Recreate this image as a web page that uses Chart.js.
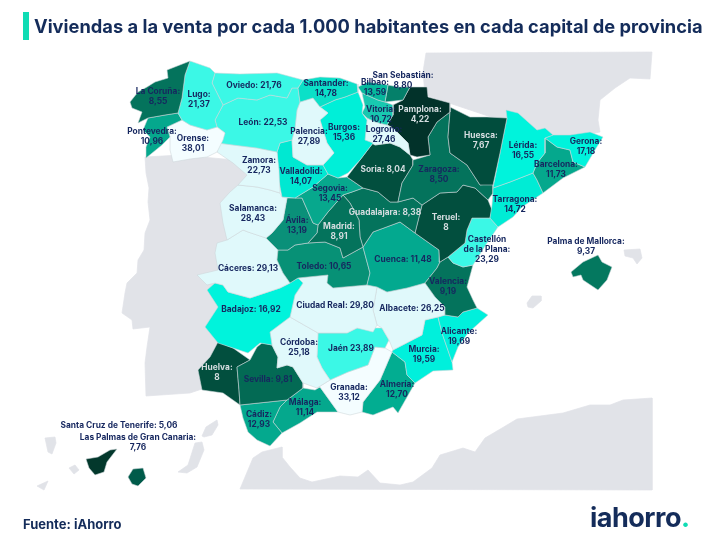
<!DOCTYPE html>
<html>
<head>
<meta charset="utf-8">
<script src="https://cdn.jsdelivr.net/npm/chart.js@4"></script>
<style>
    html, body { margin: 0; padding: 0; background: #fff; }
    #page { position: relative; width: 712px; height: 543px; overflow: hidden; font-family: Inter, sans-serif; color: #142c5a; }
    canvas { position: absolute; left: 0; top: 0; }
    #bar { position: absolute; left: 23px; top: 12px; width: 6px; height: 28px; background: #0fdcb4; }
    #title { position: absolute; left: 34px; top: 13px; margin: 0; font-size: 18.3px; line-height: 26px; font-weight: 700; white-space: nowrap; }
    #source { position: absolute; left: 23px; top: 515px; font-size: 13px; line-height: 18px; font-weight: 700; }
    #logo { position: absolute; left: 590px; top: 500px; font-size: 27px; line-height: 36px; font-weight: 700; letter-spacing: -0.5px; }
    #logo span { color: #0fdcb4; }
</style>
</head>
<body>
<div id="page">
    <canvas id="map" width="712" height="543"></canvas>
    <div id="bar"></div>
    <h1 id="title">Viviendas a la venta por cada 1.000 habitantes en cada capital de provincia</h1>
    <div id="source">Fuente: iAhorro</div>
    <div id="logo">iahorro<span>.</span></div>
</div>
<script>
const provinces = ['La Coruña', 'Lugo', 'Oviedo', 'Santander', 'Bilbao', 'San Sebastián', 'Pontevedra', 'Orense', 'León', 'Palencia', 'Burgos',
    'Vitoria', 'Logroño', 'Pamplona', 'Huesca', 'Lérida', 'Gerona', 'Barcelona', 'Tarragona', 'Zaragoza', 'Soria', 'Zamora', 'Valladolid', 'Segovia',
    'Salamanca', 'Ávila', 'Madrid', 'Guadalajara', 'Teruel', 'Castellón\nde la Plana', 'Valencia', 'Cuenca', 'Toledo', 'Cáceres', 'Badajoz',
    'Ciudad Real', 'Albacete', 'Alicante', 'Murcia', 'Córdoba', 'Jaén', 'Granada', 'Almería', 'Sevilla', 'Huelva', 'Cádiz', 'Málaga',
    'Palma de Mallorca', 'Santa Cruz de Tenerife', 'Las Palmas de Gran Canaria'];
const values = [8.55, 21.37, 21.76, 14.78, 13.59, 8.80, 10.96, 38.01, 22.53, 27.89, 15.36,
    10.72, 27.46, 4.22, 7.67, 16.55, 17.18, 11.73, 14.72, 8.50, 8.04, 22.73, 14.07, 13.45,
    28.43, 13.19, 8.91, 8.38, 8, 23.29, 9.19, 11.48, 10.65, 29.13, 16.92,
    29.80, 26.25, 19.69, 19.59, 25.18, 23.89, 33.12, 12.70, 9.81, 8, 12.93, 11.14,
    9.37, 5.06, 7.76];
const shades = ['#04735c', '#3bf8e6', '#3bf8e6', '#0be0c8', '#06b89d', '#04806a', '#05a88d', '#f4fdff', '#3bf8e6', '#e0f9fb', '#00efd8',
    '#18c8b0', '#e0f9fb', '#02322a', '#014d3d', '#00f3dc', '#00f3dc', '#05a88d', '#00ecd5', '#04735c', '#024f3e', '#e0f9fb', '#00e8d2', '#07a88d',
    '#e0f9fb', '#0a9079', '#04735c', '#04735c', '#024f3e', '#3bf8e6', '#04735c', '#03a98f', '#079176', '#e0f9fb', '#00f3dc',
    '#e0f9fb', '#e0f9fb', '#00f0dc', '#00f0dc', '#e0f9fb', '#3bf8e6', '#f4fdff', '#02ad91', '#036a54', '#024f3e', '#04a98e', '#05a88d',
    '#04785f', '#03382c', '#005b4a'];
// outlines, in a 712x543 map space
const outlines = [
    [[190,61],[167,70],[168,78],[155,82],[147,87],[138,92],[130,102],[132,108],[142,112],[138,123],[148,118],[165,115],[178,113],[182,98],[185,75]],
    [[190,61],[210,68],[215,73],[212,83],[223,105],[215,120],[217,127],[207,130],[190,125],[182,120],[178,113],[182,98],[185,75]],
    [[215,73],[240,74],[277,73],[303,80],[298,88],[292,88],[287,98],[270,95],[257,100],[238,98],[223,105],[212,83]],
    [[303,80],[320,77],[340,78],[357,84],[358,92],[345,97],[335,100],[320,107],[313,98],[300,102],[298,88]],
    [[358,87],[368,82],[388,85],[385,102],[378,100],[362,93]],
    [[388,85],[398,87],[410,87],[403,100],[385,102]],
    [[148,118],[165,115],[178,113],[182,120],[167,127],[170,137],[162,145],[146,158],[146,147],[150,137],[143,130]],
    [[167,127],[182,120],[190,125],[207,130],[217,127],[225,133],[223,140],[217,152],[207,157],[190,159],[173,162],[170,150],[170,137]],
    [[223,105],[238,98],[257,100],[270,95],[287,98],[292,88],[298,88],[300,102],[297,110],[295,128],[292,140],[280,143],[277,152],[257,148],[233,145],[218,143],[225,133],[217,127],[215,120]],
    [[300,102],[313,98],[320,107],[328,113],[320,120],[327,143],[334,153],[323,165],[307,165],[293,157],[292,140],[295,128],[297,110]],
    [[320,107],[335,100],[345,97],[358,92],[363,105],[362,113],[367,120],[365,140],[373,143],[360,160],[348,173],[338,178],[328,174],[323,165],[334,153],[327,143],[320,120],[328,113]],
    [[362,93],[378,100],[385,102],[393,105],[393,115],[387,125],[375,122],[367,118],[362,113],[365,107]],
    [[367,118],[375,122],[387,125],[393,128],[402,137],[408,143],[410,155],[400,147],[390,143],[375,145],[365,140]],
    [[410,87],[427,87],[428,97],[450,103],[450,112],[437,122],[428,137],[430,155],[417,157],[410,155],[408,143],[402,137],[393,128],[387,125],[393,115],[393,105],[403,100]],
    [[450,107],[470,117],[487,117],[507,118],[500,153],[493,185],[480,185],[467,165],[450,153],[448,137],[450,112]],
    [[506,110],[518,113],[537,130],[545,128],[553,135],[545,138],[545,153],[537,163],[533,173],[510,182],[493,188],[500,153],[507,118]],
    [[553,135],[570,135],[590,132],[603,137],[595,150],[585,167],[573,162],[570,150],[557,147],[545,138]],
    [[545,138],[557,147],[570,150],[573,162],[585,167],[563,178],[543,193],[537,180],[533,173],[537,163],[545,153]],
    [[493,188],[510,182],[533,173],[537,180],[543,193],[522,207],[513,217],[498,227],[490,218],[492,205],[493,193]],
    [[450,112],[448,137],[450,153],[467,165],[480,185],[493,183],[493,193],[488,200],[475,188],[463,185],[457,192],[440,193],[422,205],[413,198],[398,202],[402,183],[413,165],[413,160],[430,155],[428,137],[437,122]],
    [[375,145],[390,143],[400,147],[410,155],[413,160],[413,165],[402,183],[398,202],[390,202],[378,192],[363,188],[347,177],[360,160],[373,143]],
    [[217,152],[218,143],[233,145],[257,148],[277,152],[279,170],[280,193],[270,190],[257,187],[238,185],[247,175],[233,163]],
    [[280,143],[292,140],[293,157],[307,165],[323,165],[328,174],[313,187],[295,198],[282,197],[278,177],[277,152]],
    [[295,198],[313,187],[328,174],[338,178],[347,177],[363,188],[352,192],[343,195],[328,212],[318,225],[313,223],[302,198]],
    [[238,185],[257,187],[270,190],[280,193],[282,197],[287,198],[283,220],[272,233],[266,238],[248,232],[243,230],[227,240],[223,223],[220,203],[230,192]],
    [[287,198],[302,198],[313,223],[318,225],[317,233],[308,243],[295,245],[288,250],[278,250],[266,238],[272,233],[283,220]],
    [[343,195],[350,203],[359,220],[360,237],[363,247],[343,258],[340,248],[325,242],[308,243],[317,233],[318,225],[328,212]],
    [[363,188],[378,192],[390,202],[398,202],[413,198],[422,205],[415,233],[400,222],[373,232],[363,247],[360,237],[359,220],[350,203],[343,195],[352,192]],
    [[422,205],[440,193],[457,192],[463,185],[475,188],[488,200],[492,210],[490,218],[472,218],[467,230],[465,243],[448,257],[440,262],[439,250],[415,233]],
    [[472,218],[490,218],[498,227],[487,243],[473,265],[463,267],[453,263],[448,257],[465,243],[467,230]],
    [[440,262],[448,257],[453,263],[463,267],[473,265],[467,287],[473,300],[477,308],[463,312],[458,317],[445,315],[445,307],[435,297],[425,283],[437,268]],
    [[363,247],[373,232],[400,222],[415,233],[439,250],[440,262],[437,268],[425,283],[407,288],[387,292],[377,287],[367,285],[370,273]],
    [[278,250],[288,250],[295,245],[308,243],[325,242],[340,248],[343,258],[363,247],[370,273],[367,285],[333,288],[327,283],[328,275],[308,277],[298,278],[290,283],[283,273],[277,260]],
    [[227,240],[243,230],[248,232],[266,238],[278,250],[277,260],[283,273],[290,283],[280,288],[250,298],[228,292],[223,285],[215,283],[207,285],[197,275],[218,270],[215,253],[217,243]],
    [[207,290],[215,283],[223,285],[228,292],[250,298],[280,288],[290,283],[298,278],[303,283],[295,295],[290,317],[270,332],[272,345],[260,343],[248,353],[233,348],[218,343],[205,327],[218,307]],
    [[303,283],[298,278],[308,277],[328,275],[327,283],[333,288],[367,285],[377,287],[373,310],[377,325],[373,332],[357,328],[347,333],[318,333],[290,317],[295,295]],
    [[377,287],[387,292],[407,288],[425,283],[435,297],[445,307],[445,315],[438,317],[425,320],[422,335],[393,350],[389,340],[382,328],[377,325],[373,310]],
    [[438,317],[445,315],[458,317],[463,312],[477,308],[488,315],[468,333],[458,347],[452,362],[442,333]],
    [[393,350],[422,335],[425,320],[438,317],[442,333],[452,362],[453,370],[433,371],[415,383],[407,375],[405,362],[392,352]],
    [[290,317],[318,333],[317,357],[322,368],[330,380],[317,388],[303,383],[293,367],[287,365],[277,368],[278,357],[272,345],[270,332]],
    [[318,333],[347,333],[357,328],[382,328],[389,340],[385,348],[375,347],[368,365],[348,372],[330,380],[322,368],[317,357]],
    [[317,388],[330,380],[348,372],[368,365],[375,347],[385,348],[392,352],[380,380],[363,402],[362,412],[350,415],[338,412],[320,387]],
    [[392,352],[405,362],[407,375],[415,383],[398,413],[393,407],[373,415],[362,412],[363,402],[380,380]],
    [[262,343],[272,345],[278,357],[277,368],[287,365],[293,367],[303,383],[303,388],[287,400],[240,405],[239,390],[237,367],[250,360],[257,347]],
    [[218,342],[233,348],[250,360],[237,367],[239,390],[240,405],[223,393],[202,390],[198,370],[210,357]],
    [[240,405],[287,400],[280,407],[273,422],[282,433],[270,446],[257,440],[248,432],[243,418]],
    [[287,400],[303,388],[315,390],[320,387],[338,412],[317,412],[300,423],[282,433],[273,422],[280,407]],
    [[571,272],[583,262],[598,255],[602,262],[612,267],[607,280],[598,290],[583,280],[581,275],[573,277]],
    [[86,459],[98,457],[110,450],[117,449],[107,462],[104,472],[95,475],[89,468]],
    [[128,477],[133,469],[143,468],[146,478],[138,486],[132,484]]
];
// neighbouring land and islands without a figure
const otherLand = [
    [[426,53],[652,52],[650,79],[630,78],[615,88],[600,100],[598,120],[600,132],[560,140],[500,120],[425,95],[423,72]],
    [[145,157],[146,173],[149,188],[148,202],[150,220],[145,233],[144,250],[138,260],[137,273],[127,283],[125,293],[122,313],[132,320],[133,329],[150,327],[147,347],[145,363],[146,396],[190,393],[205,388],[212,360],[225,330],[215,290],[230,240],[235,195],[250,180],[235,160],[180,155]],
    [[240,489],[253,458],[262,452],[282,447],[282,457],[290,467],[300,478],[312,482],[340,476],[358,477],[368,470],[380,483],[400,485],[413,482],[432,468],[440,455],[463,448],[475,452],[485,438],[502,428],[517,419],[563,413],[590,405],[610,405],[623,400],[652,398],[652,490]],
    [[624,250],[640,249],[642,258],[637,264],[633,258],[625,256]],
    [[527,303],[532,296],[541,296],[541,301],[533,308],[528,307]],
    [[45,438],[55,437],[56,443],[52,454],[48,452]],
    [[69,468],[75,465],[79,470],[74,474]],
    [[37,486],[48,481],[44,490]],
    [[178,472],[188,465],[195,443],[202,442],[204,450],[197,467],[187,473]],
    [[202,436],[206,427],[217,420],[218,425],[212,435],[204,437]]
];
const labelAt = [[158,91],[199,94],[254,85],[326,83],[375,82],[403,75],[152,131],[193,138],[263,122],[309,131],[344,127],
    [381,109],[384,129],[420,109],[481,135],[523,145],[586,141],[556,164],[515,199],[439,169],[383,169],[259,160],[301,171],[330,188],
    [253,208],[297,220],[339,226],[385,212],[446,217],[487,239],[448,281],[403,259],[324,266],[248,268],[251,309],
    [335,305],[412,308],[459,331],[424,349],[299,342],[351,348],[349,387],[397,384],[268,379],[217,367],[259,414],[305,402],
    [586,241],[119,425],[138,437]];
const oneLine = ['Oviedo', 'León', 'Soria', 'Guadalajara', 'Cuenca', 'Toledo', 'Cáceres', 'Badajoz', 'Ciudad Real', 'Albacete', 'Jaén', 'Sevilla', 'Santa Cruz de Tenerife'];
const paleText = ['Pamplona', 'Huesca', 'Soria', 'Guadalajara', 'Madrid', 'Teruel', 'Huelva'];

const formatValue = (v) => Number.isInteger(v) ? String(v) : v.toFixed(2).replace('.', ',');

const closed = (points) => points.concat([points[0]]).map(([x, y]) => ({ x, y }));

const landDatasets = otherLand.map((points) => ({
    data: closed(points),
    backgroundColor: '#e1e3e8',
    borderColor: '#e1e3e8',
    order: 2,
}));
const provinceDatasets = provinces.map((name, i) => ({
    label: name,
    data: closed(outlines[i]),
    backgroundColor: shades[i],
    borderColor: 'rgba(205,214,217,0.8)',
    order: 1,
}));

// fills each closed outline just before the library strokes it
const polygonFill = {
    id: 'polygonFill',
    beforeDatasetDraw(chart, args) {
        const { ctx } = chart;
        ctx.save();
        ctx.beginPath();
        args.meta.data.forEach((point, i) => {
            if (i === 0) ctx.moveTo(point.x, point.y);
            else ctx.lineTo(point.x, point.y);
        });
        ctx.fillStyle = chart.data.datasets[args.index].backgroundColor;
        ctx.fill();
        ctx.restore();
    }
};

const provinceLabels = {
    id: 'provinceLabels',
    afterDatasetsDraw(chart) {
        const { ctx, scales } = chart;
        ctx.save();
        ctx.font = '700 8.4px Inter, sans-serif';
        ctx.textAlign = 'center';
        ctx.textBaseline = 'middle';
        provinces.forEach((name, i) => {
            const colon = name === 'Jaén' ? '' : ':';
            const text = name + colon + (oneLine.includes(name) ? ' ' : '\n') + formatValue(values[i]);
            ctx.fillStyle = paleText.includes(name) ? '#d5dde0' : '#16275f';
            text.split('\n').forEach((line, row) => {
                ctx.fillText(line, scales.x.getPixelForValue(labelAt[i][0]), scales.y.getPixelForValue(labelAt[i][1] + row * 10));
            });
        });
        ctx.restore();
    }
};

new Chart(document.getElementById('map'), {
    type: 'scatter',
    data: { datasets: landDatasets.concat(provinceDatasets) },
    options: {
        responsive: false,
        animation: false,
        layout: { padding: 0 },
        scales: {
            x: { type: 'linear', display: false, min: 0, max: 712 },
            y: { type: 'linear', display: false, min: 0, max: 543, reverse: true }
        },
        datasets: {
            scatter: { showLine: true, fill: false, tension: 0, borderWidth: 0.7, pointRadius: 0, clip: false }
        },
        plugins: {
            legend: { display: false },
            tooltip: { enabled: false },
            title: { display: false }
        }
    },
    plugins: [polygonFill, provinceLabels]
});
</script>
</body>
</html>
